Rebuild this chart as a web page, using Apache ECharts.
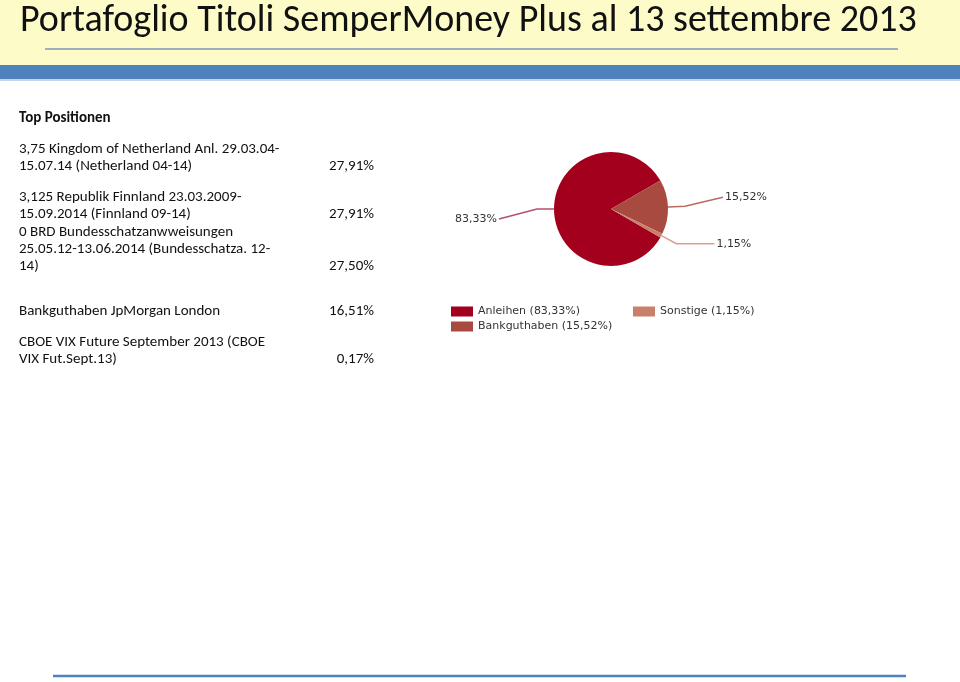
<!DOCTYPE html>
<html><head><meta charset="utf-8">
<script src="https://cdn.jsdelivr.net/npm/echarts@6/dist/echarts.min.js"></script>
<style>html,body{margin:0;padding:0;background:#fff}#c{width:960px;height:682px}</style>
</head><body><div id="c"></div>
<script>
var titleText = 'Portafoglio Titoli SemperMoney Plus al 13 settembre 2013';
var tableHeader = 'Top Positionen';
var positionLines = [
  ['3,75 Kingdom of Netherland Anl. 29.03.04-', '15.07.14 (Netherland 04-14)'],
  ['3,125 Republik Finnland 23.03.2009-', '15.09.2014 (Finnland 09-14)'],
  ['0 BRD Bundesschatzanwweisungen', '25.05.12-13.06.2014 (Bundesschatza. 12-', '14)'],
  ['Bankguthaben JpMorgan London'],
  ['CBOE VIX Future September 2013 (CBOE', 'VIX Fut.Sept.13)']
];
var positionWeights = ['27,91%', '27,91%', '27,50%', '16,51%', '0,17%'];
var positionTops = [150, 198, 233, 312, 343];
var sliceNames = ['Anleihen', 'Bankguthaben', 'Sonstige'];
var sliceValues = [83.33, 15.52, 1.15];
var sliceColors = ['#a3001e', '#a94a40', '#c8806a'];
var lineColors = ['#b4506a', '#b86a62', '#d9a090'];
var labelShift = [10, -9, 0];

function fmt(v){ return v.toFixed(2).replace('.', ',') + '%'; }

var chart = echarts.init(document.getElementById('c'));
var txtFont = '"Carlito","Liberation Sans Narrow","DejaVu Sans Condensed",sans-serif';
var graphics = [
  {type:'rect', shape:{x:0,y:0,width:960,height:65}, style:{fill:'#fdfcc9'}, silent:true},
  {type:'rect', shape:{x:0,y:65,width:960,height:14}, style:{fill:'#4f81bd'}, silent:true},
  {type:'rect', shape:{x:0,y:79,width:960,height:2}, style:{fill:'#c5d5e8'}, silent:true},
  {type:'line', shape:{x1:45,y1:49,x2:898,y2:49}, style:{stroke:'#7b97b2', lineWidth:1.5}, silent:true},
  {type:'line', shape:{x1:53,y1:676,x2:906,y2:676}, style:{stroke:'#4f81bd', lineWidth:2.5}, silent:true},
  {type:'text', left:20, top:2, style:{text:titleText, font:'38px ' + txtFont, fill:'#111'}},
  {type:'text', left:19, top:111, style:{text:tableHeader, font:'bold 15px ' + txtFont, fill:'#111'}}
];
positionLines.forEach(function(lines, i){
  var top0 = positionTops[i];
  lines.forEach(function(t, j){
    graphics.push({type:'text', left:19, top: top0 - 8 + j*17, style:{text:t, font:'15px ' + txtFont, fill:'#111'}});
  });
  var lastTop = top0 - 8 + (lines.length-1)*17;
  graphics.push({type:'text', right: 960-374, top:lastTop, style:{text:positionWeights[i], font:'15px ' + txtFont, fill:'#111', textAlign:'right'}});
});

var data = sliceNames.map(function(n, i){
  return {name:n, value:sliceValues[i], itemStyle:{color:sliceColors[i]}, labelLine:{lineStyle:{color:lineColors[i]}}};
});

var legendCommon = {orient:'vertical', padding:0, itemWidth:22, itemHeight:10, itemGap:4, icon:'rect',
  textStyle:{fontFamily:'DejaVu Sans', fontSize:11, color:'#333'},
  formatter:function(n){ return n + ' (' + fmt(sliceValues[sliceNames.indexOf(n)]) + ')'; }};

chart.setOption({
  animation:false,
  graphic: graphics,
  legend: [
    Object.assign({left:451, top:306, data:['Anleihen','Bankguthaben']}, legendCommon),
    Object.assign({left:633, top:306, data:['Sonstige']}, legendCommon)
  ],
  series:[{
    type:'pie', center:[611, 209], radius:57, startAngle:330, clockwise:true,
    data:data,
    label:{show:true, formatter:function(p){ return fmt(p.value); }, fontFamily:'DejaVu Sans', fontSize:11, color:'#333', distanceToLabelLine:2},
    labelLine:{show:true, length:17, length2:38, smooth:false, lineStyle:{width:1.5}},
    labelLayout:function(p){
      var dy = labelShift[p.dataIndex];
      var pts = p.labelLinePoints;
      var out = {dy: dy};
      if (pts && dy) {
        out.labelLinePoints = [pts[0], pts[1], [pts[2][0], pts[2][1] + dy]];
      }
      return out;
    },
    emphasis:{disabled:true}
  }]
});
</script></body></html>
